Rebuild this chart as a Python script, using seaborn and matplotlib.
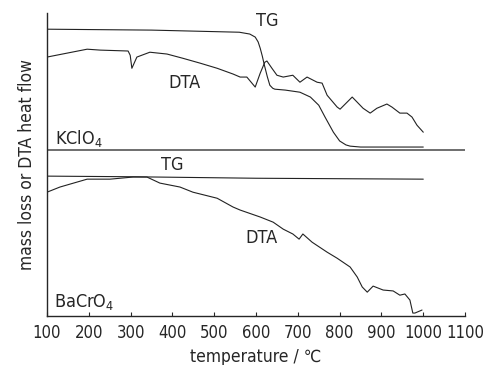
import matplotlib
matplotlib.use('Agg')
import matplotlib.pyplot as plt
import seaborn as sns
import pandas as pd

# KClO4 - TG
kclo4_tg_t = [100, 350, 560, 585, 598, 605, 610, 615, 620, 627, 633, 640, 645, 670, 705, 730, 750, 765, 785, 800, 815,
              825, 850, 1000]
kclo4_tg_v = [94.7, 94.4, 93.7, 93.1, 92.1, 90.5, 88.4, 85.8, 82.8, 79.0, 76.2, 75.2, 74.9, 74.6, 73.9, 72.3, 69.6,
              65.7, 60.7, 57.8, 56.5, 56.1, 55.8, 55.8]

# KClO4 - DTA
kclo4_dta_t = [100, 148, 196, 227, 294, 299, 303, 315, 346, 387, 425, 466, 507, 545, 562, 578, 598, 610, 621, 626,
               638, 650, 665, 688, 705, 722, 746, 758, 770, 794, 801, 830, 842, 856, 873, 889, 913, 925, 944, 961,
               973, 985, 1000]
kclo4_dta_v = [85.5, 86.8, 88.1, 87.8, 87.5, 86.1, 81.8, 85.5, 87.1, 86.5, 85.1, 83.5, 81.8, 79.9, 78.9, 78.9, 75.6,
               80.2, 83.8, 84.2, 81.8, 79.5, 78.9, 79.5, 77.2, 78.9, 77.2, 76.9, 72.9, 69.0, 68.3, 72.3, 70.6, 68.6,
               67.0, 68.6, 70.0, 69.0, 67.0, 67.0, 65.7, 63.0, 60.7]

# BaCrO4 - TG
bacro4_tg_t = [100, 300, 600, 1000]
bacro4_tg_v = [46.2, 46.0, 45.5, 45.2]

# BaCrO4 - DTA
bacro4_dta_t = [100, 131, 196, 251, 306, 339, 370, 418, 449, 507, 545, 562, 610, 641, 665, 688, 703, 712, 734, 770,
                794, 825, 842, 854, 866, 880, 904, 928, 944, 956, 968, 975, 980, 997]
bacro4_dta_v = [40.9, 42.6, 45.2, 45.2, 45.9, 45.9, 43.9, 42.6, 40.9, 38.9, 36.0, 35.0, 32.7, 31.0, 28.7, 27.1, 25.4,
                27.1, 24.4, 21.1, 19.1, 16.2, 12.9, 9.6, 7.9, 9.9, 8.6, 8.3, 6.9, 7.3, 5.3, 1.0, 1.0, 2.0]

separador = 54.8

sns.set_style('ticks')
plt.rcParams['font.family'] = ['DejaVu Sans']
plt.rcParams['font.stretch'] = 'condensed'

fig = plt.figure(figsize=(4.89, 3.65), dpi=100)
ax = fig.add_axes([0.0961, 0.134, 0.855, 0.830])

cor = '#222222'
for t, v in [(kclo4_tg_t, kclo4_tg_v), (kclo4_dta_t, kclo4_dta_v),
             (bacro4_tg_t, bacro4_tg_v), (bacro4_dta_t, bacro4_dta_v)]:
    sns.lineplot(x=t, y=v, ax=ax, color=cor, linewidth=0.8, sort=False)

ax.axhline(separador, color='#555555', linewidth=1.2)

# textos
fs = 13
ax.text(626, 97.4, 'TG', ha='center', va='center', fontsize=fs)
ax.text(430, 76.9, 'DTA', ha='center', va='center', fontsize=fs)
ax.text(119, 58.7, 'KClO$_4$', ha='left', va='center', fontsize=fs)
ax.text(399, 49.8, 'TG', ha='center', va='center', fontsize=fs)
ax.text(614, 25.7, 'DTA', ha='center', va='center', fontsize=fs)
ax.text(117, 4.6, 'BaCrO$_4$', ha='left', va='center', fontsize=fs)

ax.set_xlim(100, 1100)
ax.set_ylim(0, 100)
ax.set_xticks(range(100, 1101, 100))
ax.set_yticks([])
ax.tick_params(axis='x', direction='in', length=3, labelsize=12, pad=6)
sns.despine(ax=ax)
ax.spines['left'].set_linewidth(1.0)
ax.spines['bottom'].set_linewidth(1.0)

ax.set_xlabel('temperature / ℃', fontsize=12.5, labelpad=4)
ax.set_ylabel('mass loss or DTA heat flow', fontsize=12.5, labelpad=8)

fig.savefig('out.png', dpi=100)
